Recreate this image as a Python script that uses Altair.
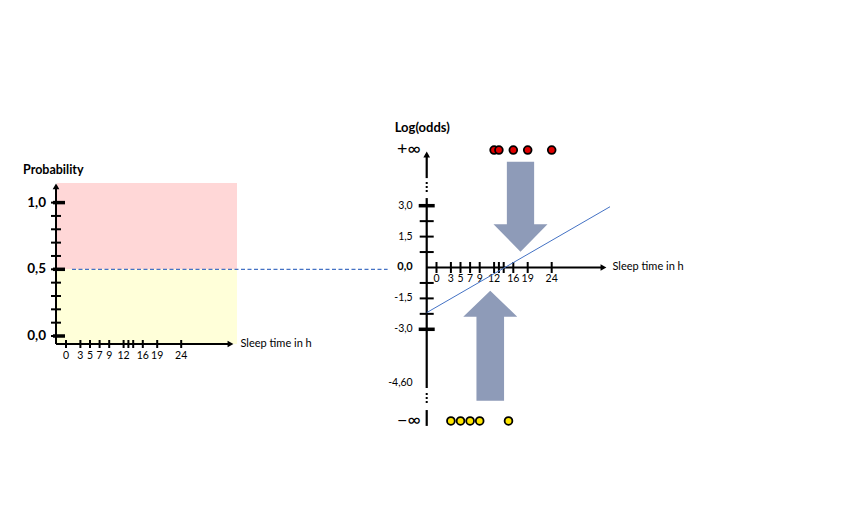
import altair as alt
import pandas as pd

# ---------------- data ----------------
sleep_ticks = [0, 3, 5, 7, 9, 12, 13, 14, 16, 19, 24]
sleep_labels = [0, 3, 5, 7, 9, 12, 16, 19, 24]

prob_minor = [0.0, 0.1, 0.2, 0.3, 0.4, 0.5, 0.6, 0.7, 0.8, 0.9, 1.0]
prob_major = [0.0, 0.5, 1.0]
prob_major_labels = ["0,0", "0,5", "1,0"]

logodds_minor = [-2.25, -1.5, -0.75, 0.75, 1.5, 2.25]
logodds_major = [-3.0, 3.0]
logodds_label_pos = [3.0, 1.5, -1.5, -3.0, -5.6]
logodds_labels = ["3,0", "1,5", "-1,5", "-3,0", "-4,60"]
logodds_zero_label = "0,0"

red_sleep = [12, 13, 16, 19, 24]      # class 1 -> +inf
yellow_sleep = [3, 5, 7, 9, 15]       # class 0 -> -inf

fit_sleep = [-2.04, 36.15]
fit_logodds = [-2.19, 2.95]

# broken-axis positions on the log-odds axis
POS_INF = 5.70
NEG_INF = -7.45

FONT = "Lato"
BLUE = "#4472C4"
ARROW = "#8E9BB8"

# ---------------- scales ----------------
xL = alt.Scale(domain=[-12.0833, 160.625], nice=False)
yL = alt.Scale(domain=[-1.3193, 2.4588], nice=False)
xR = alt.Scale(domain=[-89.2708, 83.4375], nice=False)
yR = alt.Scale(domain=[-11.869, 12.597], nice=False)


def X(f, sc):
    return alt.X(f"{f}:Q", scale=sc, axis=None)


def Y(f, sc):
    return alt.Y(f"{f}:Q", scale=sc, axis=None)


# ---------------- left panel (probability) ----------------
L_AX_X = -2.08
L_AX_Y = -0.06
L_TOP = 1.147
L_RIGHT = 35.625
L_XARROW = 34.27
L_YARROW = 1.121

rect_df = pd.DataFrame({
    "x": [-1.875, -1.875], "x2": [L_RIGHT, L_RIGHT],
    "y": [0.5, L_AX_Y], "y2": [L_TOP, 0.5], "c": ["p", "y"]})
rects = alt.Chart(rect_df).mark_rect().encode(
    x=X("x", xL), x2="x2:Q", y=Y("y", yL), y2="y2:Q",
    color=alt.Color("c:N", scale=alt.Scale(domain=["p", "y"], range=["#FFD7D7", "#FFFFD9"]), legend=None))

dash_df = pd.DataFrame({"x": [1.25], "x2": [67.0], "y": [0.5]})
dashed = alt.Chart(dash_df).mark_rule(color=BLUE, strokeWidth=1.2, strokeDash=[4, 2.5], clip=False).encode(
    x=X("x", xL), x2="x2:Q", y=Y("y", yL))

lyax_df = pd.DataFrame({"x": [L_AX_X], "y": [L_AX_Y], "y2": [L_YARROW]})
lyax = alt.Chart(lyax_df).mark_rule(color="black", strokeWidth=2).encode(
    x=X("x", xL), y=Y("y", yL), y2="y2:Q")
lxax_df = pd.DataFrame({"x": [L_AX_X], "x2": [L_XARROW], "y": [L_AX_Y]})
lxax = alt.Chart(lxax_df).mark_rule(color="black", strokeWidth=2).encode(
    x=X("x", xL), x2="x2:Q", y=Y("y", yL))

l_up = alt.Chart(pd.DataFrame({"x": [L_AX_X], "y": [L_YARROW]})).mark_point(
    shape="triangle-up", size=45, filled=True, color="black", opacity=1).encode(x=X("x", xL), y=Y("y", yL))
l_right = alt.Chart(pd.DataFrame({"x": [L_XARROW], "y": [L_AX_Y]})).mark_point(
    shape="triangle-right", size=45, filled=True, color="black", opacity=1).encode(x=X("x", xL), y=Y("y", yL))

lminor = alt.Chart(pd.DataFrame({"x": [L_AX_X] * len(prob_minor), "y": prob_minor})).mark_tick(
    orient="horizontal", size=10, thickness=2, color="black", opacity=1).encode(x=X("x", xL), y=Y("y", yL))
lmajor = alt.Chart(pd.DataFrame({"x": [L_AX_X] * 3, "y": prob_major})).mark_tick(
    orient="horizontal", size=12, thickness=3.5, color="black", opacity=1, xOffset=3).encode(
    x=X("x", xL), y=Y("y", yL))
lmajor_lab = alt.Chart(pd.DataFrame({"x": [L_AX_X] * 3, "y": prob_major, "t": prob_major_labels})).mark_text(
    align="right", baseline="middle", dx=-10, font=FONT, fontSize=13.5, fontWeight="bold", color="black").encode(
    x=X("x", xL), y=Y("y", yL), text="t:N")

lxt = alt.Chart(pd.DataFrame({"x": sleep_ticks, "y": [L_AX_Y] * len(sleep_ticks)})).mark_tick(
    orient="vertical", size=8, thickness=2, color="black", opacity=1).encode(x=X("x", xL), y=Y("y", yL))
lxl = alt.Chart(pd.DataFrame({"x": sleep_labels, "y": [L_AX_Y] * len(sleep_labels),
                              "t": [str(v) for v in sleep_labels]})).mark_text(
    align="center", baseline="middle", dy=12, font=FONT, fontSize=10.5, color="black").encode(
    x=X("x", xL), y=Y("y", yL), text="t:N")

l_xtitle = alt.Chart(pd.DataFrame({"x": [L_XARROW], "y": [L_AX_Y], "t": ["Sleep time in h"]})).mark_text(
    align="left", baseline="middle", dx=10, font=FONT, fontSize=11, color="black").encode(
    x=X("x", xL), y=Y("y", yL), text="t:N")
l_ytitle = alt.Chart(pd.DataFrame({"x": [L_AX_X], "y": [L_TOP], "t": ["Probability"]})).mark_text(
    align="left", baseline="middle", dx=-33, dy=-13, font=FONT, fontSize=12.5, fontWeight="bold",
    color="black").encode(x=X("x", xL), y=Y("y", yL), text="t:N")

left = alt.layer(rects, dashed, lyax, lxax, l_up, l_right, lminor, lmajor, lmajor_lab,
                 lxt, lxl, l_xtitle, l_ytitle)

# ---------------- right panel (log odds) ----------------
R_AX_X = -2.04
R_XARROW = 34.79
R_YARROW = 5.485

seg_df = pd.DataFrame({"x": [R_AX_X] * 3, "y": [R_YARROW, 3.37, -6.92], "y2": [4.34, -5.85, -7.69]})
rsegs = alt.Chart(seg_df).mark_rule(color="black", strokeWidth=2.2).encode(
    x=X("x", xR), y=Y("y", yR), y2="y2:Q")
dot_df = pd.DataFrame({"x": [R_AX_X] * 2, "y": [4.15, -6.09], "y2": [3.57, -6.67]})
rdots = alt.Chart(dot_df).mark_rule(color="black", strokeWidth=2, strokeDash=[2, 2]).encode(
    x=X("x", xR), y=Y("y", yR), y2="y2:Q")
rxax = alt.Chart(pd.DataFrame({"x": [R_AX_X], "x2": [R_XARROW], "y": [0.0]})).mark_rule(
    color="black", strokeWidth=2).encode(x=X("x", xR), x2="x2:Q", y=Y("y", yR))
r_up = alt.Chart(pd.DataFrame({"x": [R_AX_X], "y": [R_YARROW]})).mark_point(
    shape="triangle-up", size=45, filled=True, color="black", opacity=1).encode(x=X("x", xR), y=Y("y", yR))
r_right = alt.Chart(pd.DataFrame({"x": [R_XARROW], "y": [0.0]})).mark_point(
    shape="triangle-right", size=45, filled=True, color="black", opacity=1).encode(x=X("x", xR), y=Y("y", yR))

rminor = alt.Chart(pd.DataFrame({"x": [R_AX_X] * len(logodds_minor), "y": logodds_minor})).mark_tick(
    orient="horizontal", size=14, thickness=2, color="black", opacity=1).encode(x=X("x", xR), y=Y("y", yR))
rmajor = alt.Chart(pd.DataFrame({"x": [R_AX_X] * 2, "y": logodds_major})).mark_tick(
    orient="horizontal", size=16, thickness=3.5, color="black", opacity=1).encode(x=X("x", xR), y=Y("y", yR))
rylab = alt.Chart(pd.DataFrame({"x": [R_AX_X] * len(logodds_labels), "y": logodds_label_pos,
                                "t": logodds_labels})).mark_text(
    align="right", baseline="middle", dx=-14, font=FONT, fontSize=10.5, color="black").encode(
    x=X("x", xR), y=Y("y", yR), text="t:N")
rzero = alt.Chart(pd.DataFrame({"x": [R_AX_X], "y": [0.0], "t": [logodds_zero_label]})).mark_text(
    align="right", baseline="middle", dx=-14, font=FONT, fontSize=11, fontWeight="bold",
    color="black").encode(x=X("x", xR), y=Y("y", yR), text="t:N")

inf_df = pd.DataFrame({"x": [R_AX_X, R_AX_X], "y": [POS_INF, NEG_INF], "t": ["+∞", "−∞"]})
rinf = alt.Chart(inf_df).mark_text(align="right", baseline="middle", dx=-6, font=FONT, fontSize=18,
                                   color="black").encode(x=X("x", xR), y=Y("y", yR), text="t:N")

rxt = alt.Chart(pd.DataFrame({"x": sleep_ticks, "y": [0.0] * len(sleep_ticks)})).mark_tick(
    orient="vertical", size=11, thickness=2, color="black", opacity=1).encode(x=X("x", xR), y=Y("y", yR))
rxl = alt.Chart(pd.DataFrame({"x": sleep_labels, "y": [0.0] * len(sleep_labels),
                              "t": [str(v) for v in sleep_labels]})).mark_text(
    align="center", baseline="middle", dy=12, font=FONT, fontSize=10.5, color="black").encode(
    x=X("x", xR), y=Y("y", yR), text="t:N")
r_xtitle = alt.Chart(pd.DataFrame({"x": [R_XARROW], "y": [0.0], "t": ["Sleep time in h"]})).mark_text(
    align="left", baseline="middle", dx=9, font=FONT, fontSize=11, color="black").encode(
    x=X("x", xR), y=Y("y", yR), text="t:N")
r_ytitle = alt.Chart(pd.DataFrame({"x": [R_AX_X], "y": [R_YARROW], "t": ["Log(odds)"]})).mark_text(
    align="left", baseline="middle", dx=-32, dy=-27, font=FONT, fontSize=13, fontWeight="bold",
    color="black").encode(x=X("x", xR), y=Y("y", yR), text="t:N")

fit = alt.Chart(pd.DataFrame({"x": fit_sleep, "y": fit_logodds})).mark_line(
    color=BLUE, strokeWidth=1).encode(x=X("x", xR), y=Y("y", yR))

DOWN_PATH = "M-0.303,-1 L0.303,-1 L0.303,0.391 L0.6,0.391 L0,1 L-0.6,0.391 L-0.303,0.391 Z"
UP_PATH = "M0,-1 L0.491,-0.527 L0.251,-0.527 L0.251,1 L-0.251,1 L-0.251,-0.527 L-0.491,-0.527 Z"
down_arrow = alt.Chart(pd.DataFrame({"x": [17.5], "y": [2.95]})).mark_point(
    shape=DOWN_PATH, size=8100, filled=True, color=ARROW, opacity=1, strokeWidth=0).encode(
    x=X("x", xR), y=Y("y", yR))
up_arrow = alt.Chart(pd.DataFrame({"x": [11.2], "y": [-3.80]})).mark_point(
    shape=UP_PATH, size=12100, filled=True, color=ARROW, opacity=1, strokeWidth=0).encode(
    x=X("x", xR), y=Y("y", yR))

red_pts = alt.Chart(pd.DataFrame({"x": red_sleep, "y": [POS_INF] * len(red_sleep)})).mark_point(
    shape="circle", size=60, filled=True, fill="#E00000", stroke="black", strokeWidth=1.8, opacity=1).encode(
    x=X("x", xR), y=Y("y", yR))
yel_pts = alt.Chart(pd.DataFrame({"x": yellow_sleep, "y": [NEG_INF] * len(yellow_sleep)})).mark_point(
    shape="circle", size=60, filled=True, fill="#FFE600", stroke="black", strokeWidth=1.8, opacity=1).encode(
    x=X("x", xR), y=Y("y", yR))

right = alt.layer(down_arrow, up_arrow, rsegs, rdots, rxax, r_up, r_right, rminor, rmajor, rylab, rzero,
                  rinf, rxt, rxl, r_xtitle, r_ytitle, fit, red_pts, yel_pts)

chart = alt.layer(left, right).resolve_scale(x="independent", y="independent").properties(
    width=829, height=504, padding=0
).configure_view(stroke=None)

chart.save("out.html", embed_options={"renderer": "svg", "actions": False})
